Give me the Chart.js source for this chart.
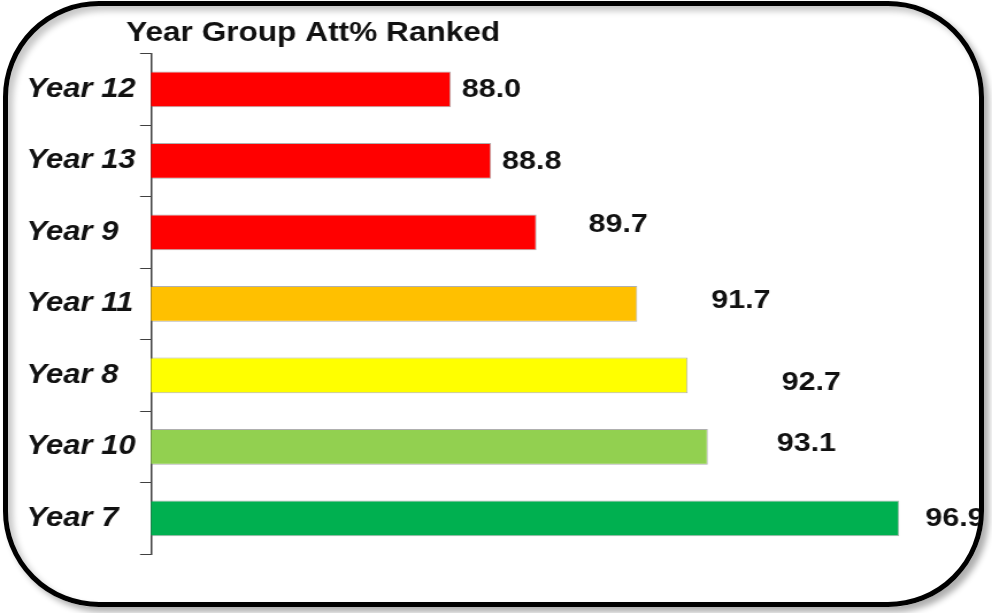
<!DOCTYPE html>
<html><head><meta charset="utf-8">
<script src="https://cdn.jsdelivr.net/npm/chart.js@4.4.1/dist/chart.umd.min.js"></script>
<style>
html,body{margin:0;padding:0;background:#fff;width:992px;height:613px;overflow:hidden;}
#frame{position:absolute;left:3px;top:1px;width:981px;height:606px;box-sizing:border-box;border:5px solid #000;border-radius:96px;overflow:hidden;
  box-shadow:5px 5px 6px rgba(0,0,0,0.32), inset 5px 5px 6px rgba(0,0,0,0.22);}
#wrap{position:absolute;left:-8px;top:-6px;width:863px;height:613px;transform:scaleX(1.1495);transform-origin:0 0;}
</style></head><body>
<div id="frame"><div id="wrap"><canvas id="c"></canvas></div></div>
<script>
// ---- data ----
const categories = ['Year 12', 'Year 13', 'Year 9', 'Year 11', 'Year 8', 'Year 10', 'Year 7'];
const attendance = [88.0, 88.8, 89.7, 91.7, 92.7, 93.1, 96.9];
const titleText = 'Year Group Att% Ranked';
// ---- style ----
const barColors = ['#FF0000', '#FF0000', '#FF0000', '#FFC000', '#FFFF00', '#92D050', '#00B050'];
const labelOffsets = [[11, 0], [11, 1], [52, -8], [74, -3], [94, 7], [69, -3], [26, 0]]; // px from bar end / centre
const S = 1.1495; // horizontal stretch of the picture
const FONT = '"Liberation Sans", Arial, Helvetica, sans-serif';

const titlePlugin = {
  id: 'titleAt',
  afterDraw(chart) {
    const ctx = chart.ctx;
    ctx.save();
    ctx.font = 'bold 27.5px ' + FONT;
    ctx.fillStyle = '#111';
    ctx.textAlign = 'left';
    ctx.textBaseline = 'alphabetic';
    ctx.fillText(titleText, chart.chartArea.left - 25 / S, 41);
    ctx.restore();
  }
};

const valueLabels = {
  id: 'valueLabels',
  afterDatasetsDraw(chart) {
    const ctx = chart.ctx;
    const meta = chart.getDatasetMeta(0);
    ctx.save();
    ctx.font = 'bold 26.5px ' + FONT;
    ctx.fillStyle = '#111';
    ctx.textAlign = 'left';
    ctx.textBaseline = 'middle';
    meta.data.forEach((bar, i) => {
      const [dx, dy] = labelOffsets[i];
      ctx.fillText(attendance[i].toFixed(1), bar.x + dx / S, bar.y + dy);
    });
    ctx.restore();
  }
};

new Chart(document.getElementById('c'), {
  type: 'bar',
  data: {
    labels: categories,
    datasets: [{
      data: attendance,
      backgroundColor: barColors,
      borderColor: 'rgba(110,110,110,0.55)',
      borderWidth: 1,
      categoryPercentage: 1,
      barPercentage: 0.5
    }]
  },
  options: {
    indexAxis: 'y',
    responsive: true,
    maintainAspectRatio: false,
    animation: false,
    layout: { padding: { left: 23, right: 30.3, top: 53.5, bottom: 59 } },
    plugins: { legend: { display: false }, tooltip: { enabled: false }, title: { display: false } },
    scales: {
      x: { type: 'linear', min: 82.05, max: 98.05, display: false },
      y: {
        type: 'category',
        offset: true,
        grid: { display: true, drawOnChartArea: false, drawTicks: true, tickLength: 9.6, color: '#404040', lineWidth: 1, offset: true },
        border: { display: true, color: '#404040', width: 1.5 },
        ticks: { crossAlign: 'far', color: '#111', padding: 0, font: { family: FONT, size: 27, style: 'italic', weight: 'bold' } },
        afterFit(scale) { scale.width = 108.4; }
      }
    }
  },
  plugins: [titlePlugin, valueLabels]
});
</script>
</body></html>
